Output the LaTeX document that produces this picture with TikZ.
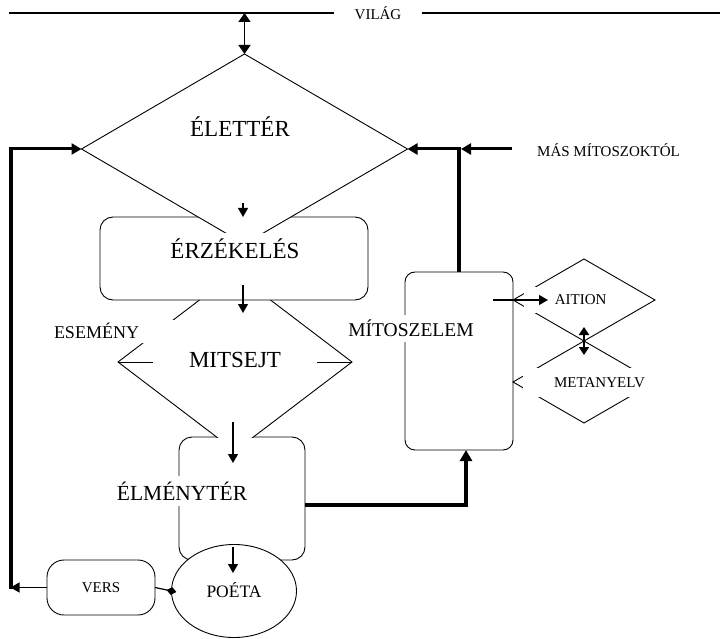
\documentclass[tikz,border=0pt]{standalone}
\usepackage{fontspec}
\setmainfont{Liberation Serif}
\usetikzlibrary{arrows.meta,shapes.geometric}
\begin{document}
\begin{tikzpicture}[x=1pt,y=-1pt,
  shapeline/.style={draw=black,line width=0.9pt},
  rbox/.style={shapeline,fill=white,inner sep=0pt,outer sep=0pt},
  dshape/.style={diamond,shapeline,inner sep=0pt,outer sep=0pt},
  mask/.style={fill=white,inner sep=0pt,outer sep=0pt},
  arr/.style={line width=1.2pt,-{Triangle[length=9pt,width=10pt]}},
  dblarr/.style={line width=1.4pt,{Triangle[length=9pt,width=12pt]}-{Triangle[length=9pt,width=12pt]}},
  thickline/.style={line width=4pt},
  thickarr/.style={line width=3pt,-{Triangle[length=10pt,width=11pt]}},
  bigtxt/.style={font=\fontsize{23}{23}\selectfont},
  midtxt/.style={font=\fontsize{18}{18}\selectfont},
  smalltxt/.style={font=\fontsize{15}{15}\selectfont}
]
\useasboundingbox (0,0) rectangle (720,639);

% VILAG line
\node[smalltxt,inner xsep=20pt,inner ysep=0pt] (vilag) at (378,13) {VILÁG};
\draw[line width=1.1pt] (9,13) -- (vilag.west);
\draw[line width=1.1pt] (vilag.east) -- (720,13);

% ELMENYTER box
\node[rbox,rounded corners=13pt,minimum width=126pt,minimum height=123pt] (elmbox) at (242,498.5) {};

% MITSEJT diamond (lower tip hidden in the box)
\begin{scope}
  \clip (0,0) rectangle (720,437);
  \node[dshape,fill=white,minimum width=234pt,minimum height=178pt] (mitsejtd) at (235,362) {};
\end{scope}

% ERZEKELES box
\node[rbox,rounded corners=13pt,minimum width=268pt,minimum height=83pt] (erzbox) at (234,258.5) {};

% ELETTER diamond (lower tip hidden in the box)
\begin{scope}
  \clip (0,0) rectangle (720,232);
  \node[dshape,fill=white,minimum width=326pt,minimum height=190pt] (elet) at (244.5,149) {};
\end{scope}
\node[bigtxt,inner sep=0pt] (elettxt) at (240,127) {ÉLETTÉR};
\node[bigtxt,inner sep=0pt] (erztxt) at (235,249) {ÉRZÉKELÉS};

% MITSEJT middle line and label
\draw[shapeline] (mitsejtd.west) -- (mitsejtd.east);
\node[bigtxt,mask,minimum width=164pt,minimum height=24pt] (mitsejt) at (235,360) {MITSEJT};
\node[midtxt,mask,text width=120pt,align=left,inner xsep=4pt,minimum height=23pt] (esemeny) at (114,331) {ESEMÉNY};

% MITOSZELEM box
\node[rbox,rounded corners=10pt,minimum width=108pt,minimum height=178pt] (mitbox) at (459,361) {};
\node[font=\fontsize{19.5}{19.5}\selectfont,mask,inner xsep=1pt,minimum height=27pt] (mitoszelem) at (411,328) {MÍTOSZELEM};

% AITION and METANYELV diamonds
\node[dshape,minimum width=142pt,minimum height=82pt] (aitiond) at (584,300) {};
\node[dshape,minimum width=142pt,minimum height=82pt] (metad) at (584,382) {};
\node[smalltxt,mask,text width=79pt,align=right,inner xsep=4pt,minimum height=26pt] (aition) at (567,300) {AITION};
\node[smalltxt,mask,text width=131pt,align=center,inner xsep=4pt,minimum height=29pt] (metanyelv) at (592.5,382.5) {\hspace*{14pt}METANYELV};

% MAS MITOSZOKTOL
\node[smalltxt,inner sep=0pt,anchor=west] (mas) at (537,150) {MÁS MÍTOSZOKTÓL};

% POETA ellipse
\node[ellipse,shapeline,fill=white,minimum width=125pt,minimum height=93pt,inner sep=0pt,outer sep=0pt,font=\fontsize{17.5}{17.5}\selectfont] (poeta) at (234,591) {\raisebox{3pt}{POÉTA}};

% ELMENYTER label
\node[font=\fontsize{21.5}{21.5}\selectfont,mask,inner xsep=1pt,minimum height=30pt] (elmtxt) at (182,491) {ÉLMÉNYTÉR};

% VERS
\node[rbox,rounded corners=17pt,minimum width=108pt,minimum height=55pt,font=\fontsize{15}{15}\selectfont] (vers) at (101,587.5) {VERS};

% ---- connectors ----
\draw[dblarr] (elet.north |- vilag.center) -- (elet.north);

\coordinate (e1) at (243,203);
\draw[arr] (e1) -- (e1 |- erzbox.north);
\coordinate (e2) at (243,285);
\coordinate (e3) at (243,313);
\draw[arr] (e2) -- (e3);

\coordinate (m1) at (233,422);
\coordinate (m2) at (233,463);
\draw[arr] (m1) -- (m2);
\coordinate (p1) at (233,547);
\coordinate (p2) at (233,573);
\draw[arr] (p1) -- (p2);

% VERS and POETA
\draw[line width=1.2pt,{Diamond[length=10pt,width=8pt]}-,shorten <=-5pt] (poeta.west) -- (vers.east);
\coordinate (lbot) at (10.5,589);
\draw[arr] (vers.west) -- (vers.west -| lbot);

% back loop to ELETTER
\draw[thickline] (lbot) -- (lbot |- elet.west);
\draw[thickarr] ([xshift=-2pt]lbot |- elet.west) -- (elet.west);

% MAS MITOSZOKTOL into ELETTER
\coordinate (mstart) at (512,149);
\coordinate (jn) at (mitbox.north |- elet.east);
\draw[thickline] (mitbox.north) -- ([yshift=2pt]jn);
\draw[thickarr] (mstart) -- ([xshift=2pt]jn);
\draw[thickarr] (jn) -- (elet.east);

% ELMENYTER to MITOSZELEM
\draw[line width=3.5pt,-{Triangle[length=11pt,width=12pt]}] ([yshift=-6.5pt]elmbox.east) -| ([xshift=7pt]mitbox.south);

% AITION arrow and double arrow
\coordinate (a0) at (493,300);
\coordinate (a1) at (548,300);
\draw[arr] (a0) -- (a1);
\coordinate (d1) at (584,327);
\coordinate (d2) at (584,355);
\draw[line width=1.8pt,{Triangle[length=8pt,width=10pt]}-{Triangle[length=8pt,width=10pt]}] (d1) -- (d2);
\end{tikzpicture}
\end{document}
